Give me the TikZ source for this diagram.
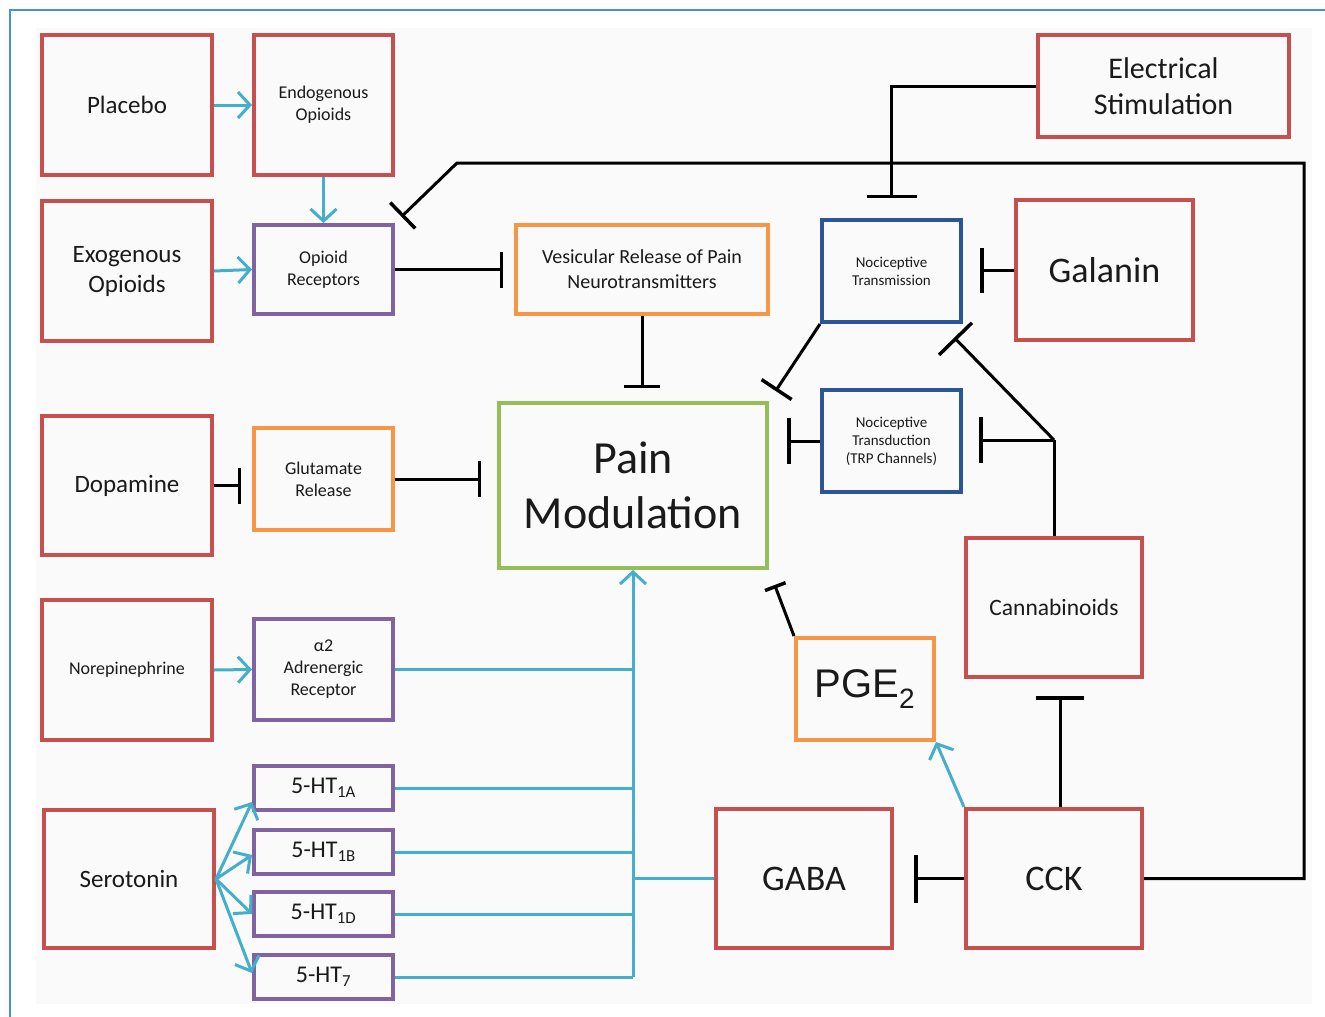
\documentclass[tikz,border=0pt]{standalone}
\usepackage{fontspec}
\setmainfont{Carlito}
\newfontfamily\arialf{Liberation Sans}
\usetikzlibrary{arrows.meta,calc}
\definecolor{cred}{HTML}{C6504E}
\definecolor{cpurple}{HTML}{8064A2}
\definecolor{corange}{HTML}{F79646}
\definecolor{cblue}{HTML}{2C5596}
\definecolor{cgreen}{HTML}{94BE58}
\definecolor{ccyan}{HTML}{45AECB}
\definecolor{cframe}{HTML}{4A8FD6}
\definecolor{txt}{HTML}{1A1A1A}
\definecolor{bgfill}{HTML}{FAFAFA}
\begin{document}
\begin{tikzpicture}[x=1pt,y=-1pt,
  box/.style={draw, line width=4pt, rectangle, align=center, text=txt, inner sep=2pt},
  redbox/.style={box, draw=cred},
  purplebox/.style={box, draw=cpurple},
  orangebox/.style={box, draw=corange},
  bluebox/.style={box, draw=cblue},
  greenbox/.style={box, draw=cgreen},
  sz/.style 2 args={minimum width=#1, minimum height=#2},
  fbig/.style={font=\fontsize{25}{30}\selectfont},
  fmid/.style={font=\fontsize{18}{22}\selectfont},
  fsmall/.style={font=\fontsize{15}{18}\selectfont},
  fht/.style={font=\fontsize{24}{28}\selectfont},
  flarge/.style={font=\fontsize{36}{42}\selectfont},
  inh/.style={draw=black, line width=3pt, -{Bar[width=#1, line width=3.5pt]}},
  act/.style={draw=ccyan, line width=3pt, -{Straight Barb[length=12pt, width=26pt, line width=3pt]}},
  line/.style={draw=black, line width=3pt}
]
\useasboundingbox (0,0) rectangle (1325,1017);
\fill[bgfill] (36,28) rectangle (1312,1004);
\draw[cframe, line width=2pt] (10,1017) -- (10,10) -- (1325,10);

% nodes
\node[redbox, sz={170pt}{140pt}, fbig] (plac) at (127,105) {Placebo};
\node[redbox, sz={139pt}{140pt}, fmid] (endo) at (323.5,105) {Endogenous\\Opioids};
\node[redbox, sz={170pt}{140pt}, fbig] (exo) at (127,271) {Exogenous\\Opioids};
\node[purplebox, sz={139pt}{89pt}, fmid] (opr) at (323.5,269.5) {Opioid\\Receptors};
\node[orangebox, sz={252pt}{89pt}, font=\fontsize{20}{25}\selectfont] (ves) at (642,269.5) {Vesicular Release of Pain\\Neurotransmitters};
\node[redbox, sz={251pt}{102pt}, font=\fontsize{30}{36}\selectfont] (elec) at (1163.5,86) {Electrical\\Stimulation};
\node[bluebox, sz={139pt}{102pt}, fsmall] (ntm) at (891.5,271) {Nociceptive\\Transmission};
\node[redbox, sz={177pt}{140pt}, flarge] (gal) at (1104.5,270) {Galanin};
\node[greenbox, sz={268pt}{165pt}, font=\fontsize{46}{55}\selectfont] (pain) at (633,485.5) {Pain\\Modulation};
\node[bluebox, sz={139pt}{102pt}, fsmall] (ntd) at (891.5,441) {Nociceptive\\Transduction\\(TRP Channels)};
\node[redbox, sz={170pt}{139pt}, fbig] (dop) at (127,485.5) {Dopamine};
\node[orangebox, sz={139pt}{102pt}, fmid] (glu) at (323.5,479) {Glutamate\\Release};
\node[redbox, sz={176pt}{139pt}, font=\fontsize{23.5}{28}\selectfont] (can) at (1054,607.5) {Cannabinoids};
\node[orangebox, sz={138pt}{102pt}, font=\arialf\fontsize{40}{46}\selectfont] (pge) at (865,689) {PGE\textsubscript{2}};
\node[redbox, sz={170pt}{140pt}, fmid] (nor) at (127,670) {Norepinephrine};
\node[purplebox, sz={139pt}{101pt}, fmid] (adr) at (323.5,669.5) {α2\\Adrenergic\\Receptor};
\node[purplebox, sz={139pt}{44pt}, fht] (ht1a) at (323.5,788) {5-HT\textsubscript{1A}};
\node[purplebox, sz={139pt}{44pt}, fht] (ht1b) at (323.5,852) {5-HT\textsubscript{1B}};
\node[purplebox, sz={139pt}{44pt}, fht] (ht1d) at (323.5,914) {5-HT\textsubscript{1D}};
\node[purplebox, sz={139pt}{44pt}, fht] (ht7) at (323.5,977) {5-HT\textsubscript{7}};
\node[redbox, sz={170pt}{138pt}, fbig] (ser) at (129,879) {Serotonin};
\node[redbox, sz={176pt}{139pt}, flarge] (gaba) at (804,878.5) {GABA};
\node[redbox, sz={176pt}{139pt}, flarge] (cck) at (1054,878.5) {CCK};

% coordinates
\coordinate (rc) at (1304,878.5);
\coordinate (tr) at (1304,163);
\coordinate (tl) at (457,163);
\coordinate (cj) at (1054,440);

% activating (cyan) connectors
\draw[act] (plac.east) -- (endo.west);
\draw[act] (endo.south) -- (opr.north);
\draw[act] (exo.east) -- (opr.west);
\draw[act] (nor.east) -- (adr.west);
\draw[act] (ser.east) -- ([yshift=-14pt]ht1a.west);
\draw[act] (ser.east) -- ([yshift=-3pt]ht1b.west);
\draw[act] (ser.east) -- (ht1d.west);
\draw[act] (ser.east) -- ([yshift=4pt]ht7.west);
\draw[ccyan, line width=3pt] (adr.east) -- (adr.east -| pain.south);
\draw[ccyan, line width=3pt] (ht1a.east) -- (ht1a.east -| pain.south);
\draw[ccyan, line width=3pt] (ht1b.east) -- (ht1b.east -| pain.south);
\draw[ccyan, line width=3pt] (ht1d.east) -- (ht1d.east -| pain.south);
\draw[ccyan, line width=3pt] (ht7.east) -- (ht7.east -| pain.south);
\draw[ccyan, line width=3pt] (gaba.west) -- (gaba.west -| pain.south);
\draw[act] (ht7.east -| pain.south) -- (pain.south);
\draw[act] (cck.north west) -- (pge.south east);

% inhibitory connectors
\draw[inh=36pt, shorten >=11pt] (opr.east) -- (opr.east -| ves.west);
\draw[inh=36pt, shorten >=13pt] (ves.south) -- (ves.south |- pain.north);
\draw[inh=36pt, shorten >=11pt] (dop.east) -- (dop.east -| glu.west);
\draw[inh=36pt, shorten >=16pt] (glu.east) -- (glu.east -| pain.west);
\draw[inh=48pt, shorten >=20pt] (cck.west) -- (cck.west -| gaba.east);
\draw[inh=48pt, shorten >=17pt] ([xshift=6pt]cck.north) -- ([xshift=6pt]can.south);
\draw[inh=22pt, shorten >=16pt] (pge.north west) -- (pain.south east);
\draw[inh=36pt, shorten >=9pt] (cck.east) -- (rc) -- (tr) -- (tl) -- (opr.north east);
\draw[inh=50pt, shorten >=20pt] (elec.west) -| (ntm.north);
\draw[inh=45pt, shorten >=17pt] (gal.west) -- (gal.west -| ntm.east);
\draw[inh=36pt, shorten >=12pt] (ntm.south west) -- (pain.north east);
\draw[inh=46pt, shorten >=18pt] (ntd.west) -- (ntd.west -| pain.east);
\draw[line] (can.north) -- (cj);
\draw[inh=46pt, shorten >=16pt] (cj) -- (cj -| ntd.east);
\draw[inh=46pt, shorten >=19pt] (cj) -- ([xshift=-22pt]ntm.south east);
\end{tikzpicture}
\end{document}
